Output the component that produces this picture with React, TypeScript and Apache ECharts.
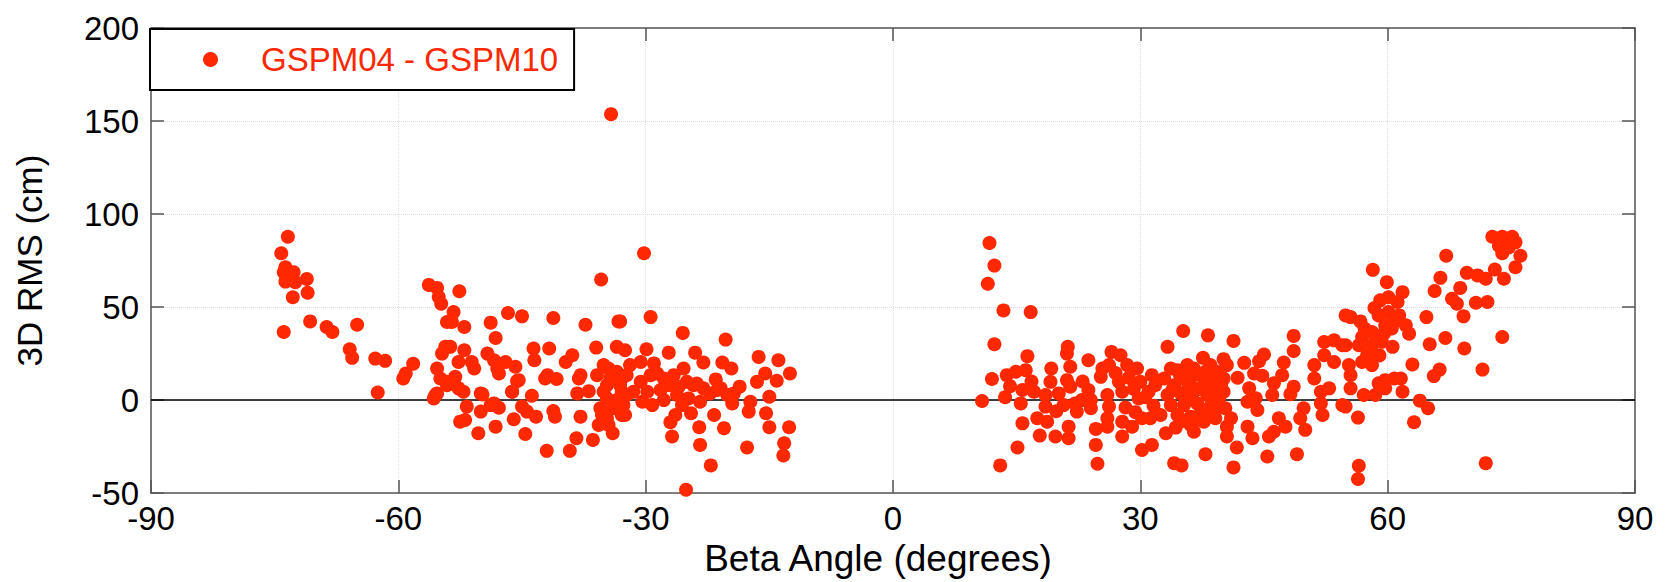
import React, { useEffect, useRef } from "react";
import * as echarts from "echarts";

const seriesName = "GSPM04 - GSPM10";
const xTicks = { min: -90, max: 90, interval: 30 };
const yTicks = { min: -50, max: 200, interval: 50 };

// [beta angle (deg), 3D RMS (cm)]
const farLeft: [number, number][] = [
  [-73.4, 87.8], [-74.2, 78.9], [-73.7, 71.4], [-73.9, 68.7], [-72.7, 68.7], [-73.7, 63.7], [-72.5, 63.4],
  [-73.1, 66], [-71.1, 65.1], [-71, 57.7], [-72.8, 55.3], [-73.9, 36.6], [-70.7, 42.3], [-68.7, 39.3],
  [-68, 36.6], [-65, 40.5], [-65.9, 27.3], [-65.6, 22.7], [-62.8, 22.3], [-61.6, 21.1], [-62.5, 4.1],
  [-59.4, 11.6], [-59.1, 14.3], [-58.2, 19.5], [-56.3, 61.9], [-55.3, 60.3], [-55.1, 55.4], [-54.8, 51.8],
  [-54.1, 42], [-54.7, 25], [-54.3, 28.6], [-55.3, 17], [-54.9, 11.6], [-55.7, 0.9], [-55.3, 3.6], [-54.1, 8],
  [-55.5, 2.7], [-54.1, 9.8], [-53.1, 12.5], [-52.7, 6.3], [-50, 3.6], [-48.8, -2.7], [-48, 17],
  [-45.4, 10.7], [-46.2, 4.5],
];

const midLeft: [number, number][] = [
  [-52.6, 58.5], [-53.3, 47.3], [-53.5, 42], [-52, 39.3], [-48.8, 41.6], [-46.7, 46.8], [-45, 45],
  [-41.2, 44.1], [-37.3, 40.5], [-33.3, 42.3], [-35.4, 64.8], [-48.2, 33.4], [-53.7, 28.6], [-52, 26.8],
  [-52.7, 20.5], [-51.1, 20.5], [-50.8, 17], [-49.2, 25], [-48.4, 21.4], [-47, 20.5], [-45.8, 17.9],
  [-47.8, 14.3], [-45.6, 10.2], [-46.2, 4.5], [-53.3, 9.8], [-52.1, 4.5], [-49.8, 3.05], [-48.4, -1.8],
  [-47.8, -4.1], [-51.7, -3.5], [-50, -6.2], [-52.5, -11.6], [-51.9, -10.7], [-50.3, -17.8], [-48.2, -14.3],
  [-46, -10.3], [-44.6, -18.2], [-45, -3.5], [-43.8, 2.3], [-44.4, -6.2], [-43.3, -8.9], [-43.6, 27.7],
  [-43.5, 21.4], [-41.7, 27.7], [-41.9, 13.4], [-42.2, 11.6], [-40.8, 11.3], [-41.2, -5.9], [-41, -8.9],
  [-42, -27.3], [-39.7, 20.5], [-38.9, 24.1], [-39.2, -27.3], [-38.4, -20.5], [-36.4, -21.4], [-37.9, -8.9],
  [-38.1, 11.6], [-37.9, 13.4], [-38.3, 3.6], [-36.9, 4.8], [-36, 28.2], [-33.5, 28.6], [-35.9, 13.4],
  [-34.5, 17], [-33.5, 15.2], [-34.7, 8], [-35.1, 4.5], [-32.9, 4.5], [-35.5, -4.4], [-33.9, -4.4],
  [-35.7, -13.4], [-34, -17.8], [-34.7, -9.8], [-32.9, -8], [-35.1, 18.8], [-34.3, 11.6], [-33.1, 8],
  [-34.7, 0.9], [-33.5, 0], [-32.7, -2.7], [-35.3, -8], [-34.5, -13.4], [-34.2, 153.7],
];

const nearLeft: [number, number][] = [
  [-30.2, 78.9], [-29.4, 44.6], [-33.1, 42.3], [-25.5, 36.1], [-20.3, 32.5], [-32.5, 26.8], [-29.9, 27.3],
  [-27.2, 25.5], [-24, 25.5], [-23, 20.2], [-20.7, 20.2], [-19.6, 17], [-16.3, 23.2], [-13.9, 21.4],
  [-12.5, 14.3], [-15.5, 14.3], [-16.5, 9.8], [-14.1, 10.4], [-15, 1.8], [-18.6, 7.2], [-21.5, 11.1],
  [-20.9, 6.3], [-17.3, -0.9], [-17.5, -6.2], [-15.4, -7.1], [-15, -14.6], [-12.6, -14.6], [-13.2, -23.2],
  [-13.3, -29.8], [-17.7, -25.5], [-22.1, -35.1], [-25.1, -48.2], [-23.4, -24.1], [-23.5, -14.6],
  [-20.5, -15.1], [-21.7, -8], [-24.5, -7.1], [-26.8, -19.6], [-27, -11.9], [-26.4, -8], [-32.5, -8],
  [-19.5, -1.8], [-23.4, -0.9], [-31.9, 18.8], [-30.6, 20.5], [-29, 19.7], [-28.6, 14.3], [-27.8, 11.6],
  [-26.6, 13.4], [-25.4, 17], [-25, 9.8], [-24.2, 8], [-23, 6.3], [-22.2, 3.6], [-30.6, 9.8], [-31.5, 4.5],
  [-29.8, 4.5], [-28.2, 5.4], [-32.3, 2.7], [-30.4, -0.9], [-29.2, -2.7], [-27.8, 0], [-26.2, 2.7],
  [-25.6, -2.7], [-24.8, 0.9], [-23.8, 8.9], [-21.3, 5.4], [-20.1, 2.7], [-19.3, 3.6], [-32.9, 11.6],
  [-32.3, 13.4], [-29.4, 13.4], [-27.2, 8], [-26, 7.2],
];

const nearRight: [number, number][] = [
  [11.7, 84.4], [12.3, 72.3], [11.5, 62.5], [13.4, 48.2], [16.7, 47.3], [12.3, 30], [16.3, 23.6],
  [21.2, 28.6], [21.1, 25], [23.7, 21.4], [26.5, 25.9], [27.6, 24.1], [10.8, -0.5], [12, 11.3], [13.6, 1.5],
  [13.8, 13.4], [14.9, 15.2], [16.1, 16.1], [19.2, 17], [21.5, 17.9], [19.1, 9.8], [21.1, 10.7], [21.5, 7.2],
  [15.7, 5.4], [17.1, 4.5], [18.5, 2.7], [20.1, 3.6], [23.7, 5.4], [15.5, -1.8], [18.5, -3.5], [20.7, -2.7],
  [22.1, -1.8], [24, -4.4], [15.7, -12.5], [17.5, -9.8], [18.7, -11.6], [17.8, -19.1], [19.7, -19.6],
  [21.3, -20.5], [21.3, -14.3], [15.1, -25.5], [13, -35.1], [24.6, -15.5], [24.6, -24.1], [24.8, -34.2],
  [25.2, 12.5], [25.4, 17], [26.2, 18.8], [27.4, 9.8], [27.8, 4.5], [26, 2.7], [26.2, -3.5], [26, -9.8],
  [26, -14.3], [27.8, -11.6], [27.8, -19.6], [29, -14.3], [28.4, 18.8], [29.6, 17], [30, 9.8], [31, 4.5],
  [31.4, 13.4], [30.2, -26.8], [31.4, -24.1], [30.2, -9.8], [31.2, -9.8], [29.8, 0.9], [22.9, 0],
  [22.3, -6.2], [24, 0], [28.6, 12], [29.2, 6], [30.6, 1.5], [31.8, 8], [28.2, -4], [29.4, -6.5],
  [31.6, -3], [27, 14.5], [23, 10], [19.8, -6], [16.8, 10], [14.2, 7.5],
];

const midRight: [number, number][] = [
  [35.2, 37.1], [38.2, 34.8], [41.3, 31.8], [33.3, 28.6], [48.6, 34.5], [48.6, 26.4], [37.6, 22.7],
  [40.1, 22], [42.6, 20], [45, 24.5], [44.4, 20.9], [47.4, 20.2], [47.2, 13.4], [33.7, 17], [35.9, 15.2],
  [41.8, 12], [43.8, 14.3], [44.8, 13.1], [46.2, 9], [43.2, 6.3], [46, 2.7], [48.2, 3.1], [48.6, 7.2],
  [51.1, 18.8], [52.3, 31.2], [53.5, 32.1], [54.5, 29.5], [52.3, 24.1], [53.5, 20.5], [51.1, 11.6],
  [51.9, 4.5], [52.9, 6.3], [51.9, -1.8], [52.1, -8], [54.5, -2.7], [54.9, 45.5], [44, 1], [44.2, -5.3],
  [43, -0.9], [49.8, -4.4], [49.4, -9.8], [50, -16], [46.8, -9.8], [47.6, -14.3], [46.2, -17], [45.6, -19.6],
  [43, -14.3], [43.6, -20.5], [41.7, -25.5], [40.5, -19.6], [45.4, -30.3], [49, -29.1], [37.9, -29.1],
  [34.1, -33.9], [35, -35.1], [41.3, -36.2], [33.1, -17.8], [34.3, -14.8], [36.5, -17], [39.1, -9.8],
  [41, -9.8], [40.5, -14.3], [32.9, 11.6], [34.1, 8], [35.3, 11.6], [36.5, 17], [37.3, 13.4], [38.5, 18.8],
  [39.3, 15.2], [40.1, 11.6], [37.7, 8], [38.9, 6.3], [40.1, 4.5], [33.3, 2.7], [34.9, 3.6], [36.5, 4.5],
  [38.1, 2.7], [39.5, 0], [33.7, -2.7], [35.3, -2.7], [36.9, -1.8], [38.5, -3.5], [40.3, -4.4], [34.5, -8],
  [36.1, -8.9], [37.7, -8], [32.45, -8], [36.1, -13.4], [37.7, -11.6], [35.7, 18.8], [40.5, 18.8], [34.5, 16.1],
  [34.8, 13.5], [36, 10], [37, 6], [38.6, 10.5], [39.8, 8.5], [35.6, 0.5], [37.4, -5.5], [39, -6.5],
  [33.9, 5.5], [35.8, 6.8], [38, 15.5], [39.6, 2], [36.6, -11], [34.9, -11.5],
];

const farRight: [number, number][] = [
  [72.7, 87.8], [73.9, 87.8], [75.1, 87.8], [75.5, 84.8], [73.5, 83], [74.7, 82.1], [73.9, 78.9],
  [76.1, 77.6], [75.5, 71.4], [74.1, 65.2], [73, 70.2], [71.9, 65.2], [70.9, 67], [69.6, 68.4], [68.8, 60.3],
  [67.1, 77.6], [66.4, 65.7], [65.7, 58.6], [67.8, 54.5], [68.4, 51.8], [69.2, 45], [70.7, 52.3],
  [72.1, 52.7], [73.9, 33.9], [71.5, 16.4], [71.9, -33.9], [64.7, 44.6], [65.1, 30], [67, 33.4],
  [69.3, 27.7], [66.3, 16.4], [65.6, 12.9], [63, 19.1], [61.8, 4.5], [63.9, -0.3], [64.9, -4.4],
  [63.2, -11.9], [58.2, 70], [59.9, 63.4], [61.8, 58], [59.1, 53.6], [60.1, 55.3], [61.2, 52.7],
  [60.1, 47.3], [58.9, 45.5], [61.4, 45.5], [62.2, 40.2], [62.6, 35.7], [59.7, 40.2], [58.1, 36.6],
  [56.9, 33.9], [56.5, 29.5], [58.1, 29.5], [59.3, 31.3], [60.6, 28.6], [57.5, 24.1], [58.1, 18.8],
  [56.9, 20.5], [55.5, 44.6], [56.7, 42.3], [54.9, 29.5], [55.3, 18.8], [55.5, 13.4], [55.5, 6.3],
  [54.9, -3.5], [57.1, 2.7], [58.5, 2.7], [58.9, 9], [59.7, 10.7], [60.8, 11.6], [61.6, 11.6], [59.7, 6.3],
  [56.4, -9.4], [56.5, -35.3], [56.4, -42.4], [58.6, 33.5], [59.6, 36], [60.5, 38.5], [57.8, 26.5],
  [59, 24], [58.4, 49.5], [60.9, 42.5], [57.2, 38.5],
];

const FONT = "'Liberation Sans', Arial, Helvetica, sans-serif";
const RED = "#ff2800";

export default function App() {
  const ref = useRef<HTMLDivElement>(null);
  useEffect(() => {
    if (!ref.current) return;
    const chart = echarts.init(ref.current, undefined, { renderer: "svg" });
    const data = [...farLeft, ...midLeft, ...nearLeft, ...nearRight, ...midRight, ...farRight];
    const axisLine = { show: true, onZero: false, lineStyle: { color: "#555", width: 1.5 } };
    const tick = { show: true, inside: true, length: 13, lineStyle: { color: "#555", width: 1.5 } };
    const split = { show: true, lineStyle: { color: "#dcdcdc", type: "dotted" as const, width: 1 } };
    chart.setOption({
      animation: false,
      backgroundColor: "#fff",
      grid: { left: 151, right: 32, top: 28, bottom: 87, show: false },
      legend: {
        left: 150,
        top: 29,
        data: [seriesName],
        icon: "circle",
        itemWidth: 15,
        itemHeight: 15,
        borderColor: "#000",
        borderWidth: 2,
        backgroundColor: "#fff",
        padding: [14, 16, 14, 53],
        textStyle: { color: RED, fontSize: 33, fontFamily: FONT, padding: [0, 0, 0, 38] },
      },
      xAxis: [
        {
          type: "value",
          min: xTicks.min,
          max: xTicks.max,
          interval: xTicks.interval,
          position: "bottom",
          name: "Beta Angle (degrees)",
          nameLocation: "middle",
          nameGap: 42,
          nameTextStyle: { color: "#000", fontSize: 37, fontFamily: FONT, padding: [0, 30, 0, 0] },
          axisLine,
          axisTick: tick,
          splitLine: split,
          axisLabel: { color: "#000", fontSize: 33, fontFamily: FONT, margin: 9 },
        },
        {
          type: "value",
          min: xTicks.min,
          max: xTicks.max,
          interval: xTicks.interval,
          position: "top",
          axisLine,
          axisTick: tick,
          splitLine: { show: false },
          axisLabel: { show: false },
        },
      ],
      yAxis: [
        {
          type: "value",
          min: yTicks.min,
          max: yTicks.max,
          interval: yTicks.interval,
          position: "left",
          name: "3D RMS (cm)",
          nameLocation: "middle",
          nameGap: 104,
          nameTextStyle: { color: "#000", fontSize: 35, fontFamily: FONT },
          axisLine,
          axisTick: tick,
          splitLine: split,
          axisLabel: { color: "#000", fontSize: 33, fontFamily: FONT, margin: 12 },
        },
        {
          type: "value",
          min: yTicks.min,
          max: yTicks.max,
          interval: yTicks.interval,
          position: "right",
          axisLine,
          axisTick: tick,
          splitLine: { show: false },
          axisLabel: { show: false },
        },
      ],
      series: [
        {
          name: seriesName,
          type: "scatter",
          data,
          symbol: "circle",
          symbolSize: 14,
          itemStyle: { color: RED, opacity: 1 },
          markLine: {
            silent: true,
            symbol: ["none", "none"],
            label: { show: false },
            lineStyle: { color: "#000", width: 1.5, type: "solid" },
            data: [{ yAxis: 0 }],
            z: 1,
          },
        },
      ],
    });
    return () => chart.dispose();
  }, []);
  return (
    <div
      ref={ref}
      style={{ position: "fixed", left: 0, top: 0, width: 1667, height: 582 }}
    />
  );
}
